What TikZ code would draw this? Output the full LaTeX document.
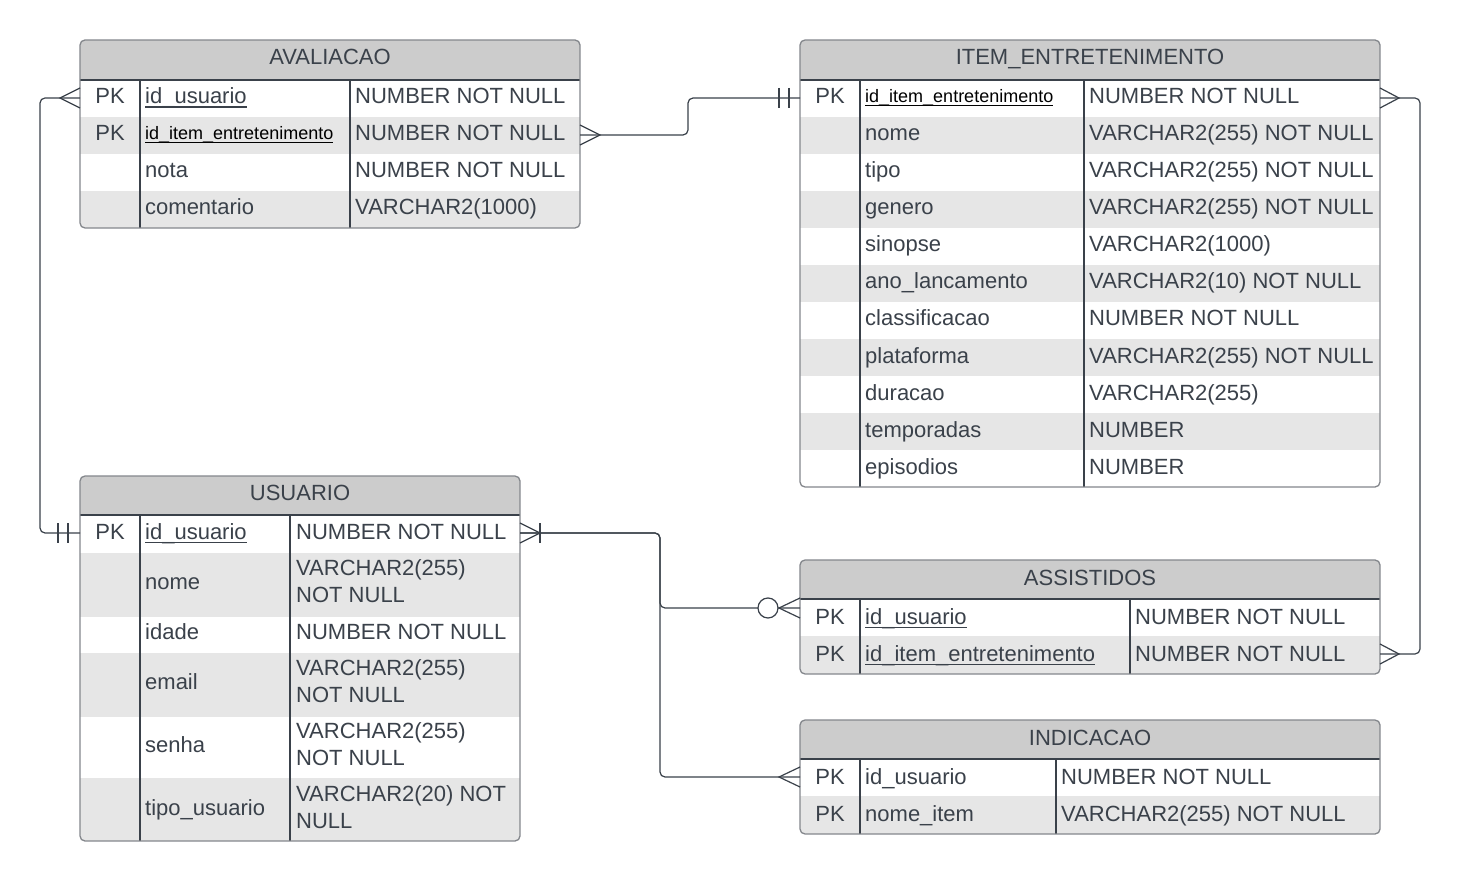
\documentclass[tikz,border=0pt]{standalone}
\usepackage{fontspec}
\setmainfont{Liberation Sans}
\usetikzlibrary{calc}
\definecolor{hdrgray}{HTML}{CCCCCC}
\definecolor{rowgray}{HTML}{E6E6E6}
\definecolor{inkdark}{HTML}{3A414A}
\definecolor{edgegray}{HTML}{84878C}
\newcommand\erfont{\fontsize{22}{27}\selectfont}
\newcommand\keyfont{\fontsize{18}{22}\selectfont}
\def\keyul#1{\setbox0\hbox{#1}\rlap{\rule[-3.6pt]{\wd0}{1.1pt}}\box0}
\def\crowfoot(#1)(#2){\draw[link] ($(#1)+(0,-10)$) -- ($(#1)+(#2,0)$) -- ($(#1)+(0,10)$);}
\def\onebar(#1)(#2){\draw[link] ($(#1)+(#2,-10)$) -- ($(#1)+(#2,10)$);}
\tikzset{
	link/.style={draw=inkdark, line width=1.2pt},
	frame/.style={draw=edgegray, line width=1.3pt, rounded corners=5pt},
	sep/.style={draw=inkdark, line width=1.2pt},
	txt/.style={inner sep=0pt, text=inkdark, font=\erfont, text height=14pt, text depth=0pt},
	cell/.style={txt, anchor=west},
	twoline/.style={inner sep=0pt, text=inkdark, font=\erfont, anchor=west, align=left},
	smallkey/.style={cell, text=black, font=\keyfont, text height=11pt},
}
\begin{document}
\begin{tikzpicture}[x=1pt, y=-1pt]
			%%%%% START %%%%%
			\useasboundingbox[fill=white] (0,0) rectangle (1461,882);
			
			% AVALIACAO
			\begin{scope}
				\clip[rounded corners=5pt] (80,40) rectangle (580,228);
				\fill[hdrgray] (80,40) rectangle (580,80);
				\fill[rowgray] (80,117) rectangle (580,154);
				\fill[rowgray] (80,191) rectangle (580,228);
			\end{scope}
			\draw[sep] (80,80) -- (580,80);
			\draw[sep] (140,80) -- (140,228);
			\draw[sep] (350,80) -- (350,228);
			\draw[frame] (80,40) rectangle (580,228);
			
			\node[txt] (aval) at (330,58) {AVALIACAO};
			\node[txt] (aval-pk1) at (110,97) {PK};
			\node[cell] (aval-f1) at (145,97) {\keyul{id\_usuario}};
			\node[cell] (aval-t1) at (355,97) {NUMBER NOT NULL};
			\node[txt] (aval-pk2) at (110,134) {PK};
			\node[smallkey] (aval-f2) at (145,134) {\keyul{id\_item\_entretenimento}};
			\node[cell] (aval-t2) at (355,134) {NUMBER NOT NULL};
			\node[cell] (aval-f3) at (145,171) {nota};
			\node[cell] (aval-t3) at (355,171) {NUMBER NOT NULL};
			\node[cell] (aval-f4) at (145,208) {comentario};
			\node[cell] (aval-t4) at (355,208) {VARCHAR2(1000)};
			
			% ITEM_ENTRETENIMENTO
			\begin{scope}
				\clip[rounded corners=5pt] (800,40) rectangle (1380,487);
				\fill[hdrgray] (800,40) rectangle (1380,80);
				\fill[rowgray] (800,117) rectangle (1380,154);
				\fill[rowgray] (800,191) rectangle (1380,228);
				\fill[rowgray] (800,265) rectangle (1380,302);
				\fill[rowgray] (800,339) rectangle (1380,376);
				\fill[rowgray] (800,413) rectangle (1380,450);
			\end{scope}
			\draw[sep] (800,80) -- (1380,80);
			\draw[sep] (860,80) -- (860,487);
			\draw[sep] (1084,80) -- (1084,487);
			\draw[frame] (800,40) rectangle (1380,487);
			
			\node[txt] (item) at (1090,58) {ITEM\_ENTRETENIMENTO};
			\node[txt] (item-pk) at (830,97) {PK};
			\node[smallkey] (item-f1) at (865,97) {\keyul{id\_item\_entretenimento}};
			\node[cell] (item-t1) at (1089,97) {NUMBER NOT NULL};
			\node[cell] (item-f2) at (865,134) {nome};
			\node[cell] (item-t2) at (1089,134) {VARCHAR2(255) NOT NULL};
			\node[cell] (item-f3) at (865,171) {tipo};
			\node[cell] (item-t3) at (1089,171) {VARCHAR2(255) NOT NULL};
			\node[cell] (item-f4) at (865,208) {genero};
			\node[cell] (item-t4) at (1089,208) {VARCHAR2(255) NOT NULL};
			\node[cell] (item-f5) at (865,245) {sinopse};
			\node[cell] (item-t5) at (1089,245) {VARCHAR2(1000)};
			\node[cell] (item-f6) at (865,282) {ano\_lancamento};
			\node[cell] (item-t6) at (1089,282) {VARCHAR2(10) NOT NULL};
			\node[cell] (item-f7) at (865,319) {classificacao};
			\node[cell] (item-t7) at (1089,319) {NUMBER NOT NULL};
			\node[cell] (item-f8) at (865,356) {plataforma};
			\node[cell] (item-t8) at (1089,356) {VARCHAR2(255) NOT NULL};
			\node[cell] (item-f9) at (865,393) {duracao};
			\node[cell] (item-t9) at (1089,393) {VARCHAR2(255)};
			\node[cell] (item-f10) at (865,430) {temporadas};
			\node[cell] (item-t10) at (1089,430) {NUMBER};
			\node[cell] (item-f11) at (865,467) {episodios};
			\node[cell] (item-t11) at (1089,467) {NUMBER};
			
			% USUARIO
			\begin{scope}
				\clip[rounded corners=5pt] (80,476) rectangle (520,841);
				\fill[hdrgray] (80,476) rectangle (520,515);
				\fill[rowgray] (80,553) rectangle (520,617);
				\fill[rowgray] (80,653) rectangle (520,717);
				\fill[rowgray] (80,778) rectangle (520,841);
			\end{scope}
			\draw[sep] (80,515) -- (520,515);
			\draw[sep] (140,515) -- (140,841);
			\draw[sep] (290,515) -- (290,841);
			\draw[frame] (80,476) rectangle (520,841);
			
			\node[txt] (usu) at (300,493) {USUARIO};
			\node[txt] (usu-pk) at (110,532) {PK};
			\node[cell] (usu-f1) at (145,532) {\keyul{id\_usuario}};
			\node[cell] (usu-t1) at (296,532) {NUMBER NOT NULL};
			\node[cell] (usu-f2) at (145,582) {nome};
			\node[twoline] (usu-t2) at (296,581) {VARCHAR2(255)\\NOT NULL};
			\node[cell] (usu-f3) at (145,632) {idade};
			\node[cell] (usu-t3) at (296,632) {NUMBER NOT NULL};
			\node[cell] (usu-f4) at (145,682) {email};
			\node[twoline] (usu-t4) at (296,681) {VARCHAR2(255)\\NOT NULL};
			\node[cell] (usu-f5) at (145,745) {senha};
			\node[twoline] (usu-t5) at (296,744) {VARCHAR2(255)\\NOT NULL};
			\node[cell] (usu-f6) at (145,808) {tipo\_usuario};
			\node[twoline] (usu-t6) at (296,807) {VARCHAR2(20) NOT\\NULL};
			
			% ASSISTIDOS
			\begin{scope}
				\clip[rounded corners=5pt] (800,560) rectangle (1380,674);
				\fill[hdrgray] (800,560) rectangle (1380,599);
				\fill[rowgray] (800,636) rectangle (1380,674);
			\end{scope}
			\draw[sep] (800,599) -- (1380,599);
			\draw[sep] (860,599) -- (860,674);
			\draw[sep] (1130,599) -- (1130,674);
			\draw[frame] (800,560) rectangle (1380,674);
			
			\node[txt] (ass) at (1090,578) {ASSISTIDOS};
			\node[txt] (ass-pk1) at (830,617) {PK};
			\node[cell] (ass-f1) at (865,617) {\keyul{id\_usuario}};
			\node[cell] (ass-t1) at (1135,617) {NUMBER NOT NULL};
			\node[txt] (ass-pk2) at (830,654) {PK};
			\node[cell] (ass-f2) at (865,654) {\keyul{id\_item\_entretenimento}};
			\node[cell] (ass-t2) at (1135,654) {NUMBER NOT NULL};
			
			% INDICACAO
			\begin{scope}
				\clip[rounded corners=5pt] (800,720) rectangle (1380,834);
				\fill[hdrgray] (800,720) rectangle (1380,759);
				\fill[rowgray] (800,796) rectangle (1380,834);
			\end{scope}
			\draw[sep] (800,759) -- (1380,759);
			\draw[sep] (860,759) -- (860,834);
			\draw[sep] (1056,759) -- (1056,834);
			\draw[frame] (800,720) rectangle (1380,834);
			
			\node[txt] (ind) at (1090,738) {INDICACAO};
			\node[txt] (ind-pk1) at (830,777) {PK};
			\node[cell] (ind-f1) at (865,777) {id\_usuario};
			\node[cell] (ind-t1) at (1061,777) {NUMBER NOT NULL};
			\node[txt] (ind-pk2) at (830,814) {PK};
			\node[cell] (ind-f2) at (865,814) {nome\_item};
			\node[cell] (ind-t2) at (1061,814) {VARCHAR2(255) NOT NULL};
			
			% connection points
			\coordinate (aval-in1) at (80,98);
			\coordinate (aval-in2) at (580,135);
			\coordinate (item-in) at (800,98);
			\coordinate (item-out) at (1380,98);
			\coordinate (usu-in) at (80,533);
			\coordinate (usu-out) at (520,533);
			\coordinate (ass-in1) at (800,608);
			\coordinate (ass-in2) at (1380,654);
			\coordinate (ind-in) at (800,777);
			
			% relationships
			\draw[link, rounded corners=5pt] (aval-in1) -- (40,98) |- (usu-in);
			\crowfoot(aval-in1)(-20)
			\onebar(usu-in)(-22)
			\onebar(usu-in)(-12)
			
			\draw[link, rounded corners=5pt] (aval-in2) -- (688,135) |- (item-in);
			\crowfoot(aval-in2)(20)
			\onebar(item-in)(-21)
			\onebar(item-in)(-11)
			
			\draw[link, rounded corners=5pt] (item-out) -- (1420,98) |- (ass-in2);
			\crowfoot(item-out)(19)
			\crowfoot(ass-in2)(19)
			
			\draw[link, rounded corners=5pt] (usu-out) -- (660,533) |- (ass-in1);
			\draw[link, rounded corners=5pt] (usu-out) -- (660,533) |- (ind-in);
			\crowfoot(usu-out)(20)
			\onebar(usu-out)(20)
			\draw[link, fill=white] (768,608) circle (10pt);
			\crowfoot(ass-in1)(-21)
			\crowfoot(ind-in)(-21)
			
			%%%%% END %%%%%
\end{tikzpicture}
\end{document}
